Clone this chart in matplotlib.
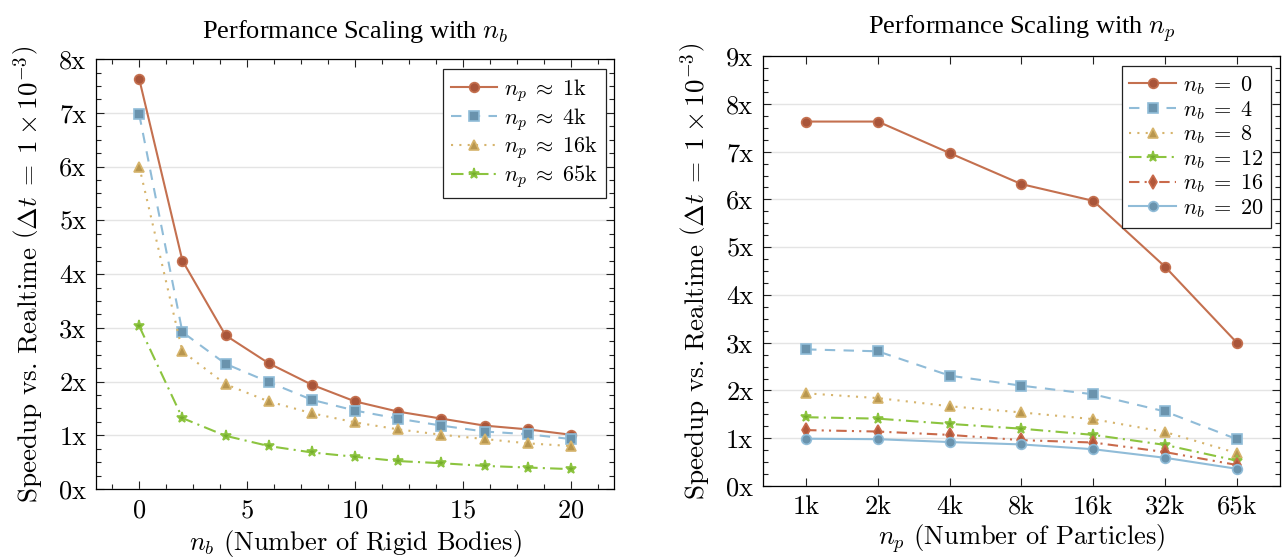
"""Speedup vs. realtime scaling charts (rigid bodies / particles)."""

import matplotlib

matplotlib.use("Agg")
import matplotlib.pyplot as plt
from matplotlib.ticker import FuncFormatter, MultipleLocator, AutoMinorLocator

plt.rcParams["font.family"] = "serif"
plt.rcParams["font.serif"] = ["cmr10"]
plt.rcParams["mathtext.fontset"] = "cm"
plt.rcParams["axes.formatter.use_mathtext"] = True

# left panel: speedup vs number of rigid bodies
n_bodies = [0, 2, 4, 6, 8, 10, 12, 14, 16, 18, 20]
speed_1k = [7.63, 4.25, 2.86, 2.34, 1.94, 1.63, 1.44, 1.31, 1.18, 1.11, 1.01]
speed_4k = [6.97, 2.92, 2.33, 1.99, 1.66, 1.46, 1.31, 1.18, 1.07, 1.02, 0.93]
speed_16k = [6.00, 2.56, 1.95, 1.63, 1.41, 1.24, 1.11, 1.01, 0.93, 0.85, 0.80]
speed_65k = [3.03, 1.32, 0.99, 0.80, 0.68, 0.60, 0.52, 0.48, 0.43, 0.40, 0.37]
left_labels = [r"$n_p \;\approx\; 1$k", r"$n_p \;\approx\; 4$k",
               r"$n_p \;\approx\; 16$k", r"$n_p \;\approx\; 65$k"]

# right panel: speedup vs number of particles
particle_labels = ["1k", "2k", "4k", "8k", "16k", "32k", "65k"]
speed_nb0 = [7.63, 7.63, 6.97, 6.32, 5.97, 4.59, 3.00]
speed_nb4 = [2.86, 2.82, 2.31, 2.10, 1.92, 1.56, 0.98]
speed_nb8 = [1.94, 1.84, 1.67, 1.54, 1.40, 1.13, 0.69]
speed_nb12 = [1.44, 1.41, 1.30, 1.20, 1.07, 0.86, 0.53]
speed_nb16 = [1.17, 1.14, 1.07, 0.96, 0.91, 0.71, 0.44]
speed_nb20 = [0.99, 0.98, 0.92, 0.87, 0.77, 0.59, 0.36]
right_labels = [r"$n_b \;=\; 0$", r"$n_b \;=\; 4$", r"$n_b \;=\; 8$",
                r"$n_b \;=\; 12$", r"$n_b \;=\; 16$", r"$n_b \;=\; 20$"]

RED = ("#c4704f", "#a9553a")
BLUE = ("#90bcd8", "#6a93ad")
GOLD = ("#d6b46c", "#b8964f")
GREEN = ("#8cc43f", "#76ad2e")
RED2 = ("#c96a4b", "#b0573a")

DASHDOTDOT = (0, (5, 2.5, 1, 2.5, 1, 2.5))
TITLE_FONT = "Liberation Serif"
YLABEL = r"Speedup vs. Realtime $\left(\Delta t \;=\; 1 \times 10^{-3}\right)$"


def style_axes(ax, ymax):
    ax.set_ylim(0, ymax)
    ax.yaxis.set_major_locator(MultipleLocator(1))
    ax.yaxis.set_minor_locator(MultipleLocator(0.25))
    ax.yaxis.set_major_formatter(FuncFormatter(lambda v, _: f"{int(round(v))}x"))
    ax.tick_params(which="both", direction="in", top=True, right=True,
                   labelsize=19, colors="#222222", labelcolor="black")
    ax.tick_params(which="major", length=6, width=0.8)
    ax.tick_params(which="minor", length=3.5, width=0.8)
    ax.tick_params(axis="x", pad=7)
    ax.tick_params(axis="y", pad=7)
    ax.grid(axis="y", which="major", color="#e4e4e4", linewidth=1)
    ax.set_axisbelow(True)
    for spine in ax.spines.values():
        spine.set_linewidth(0.9)
    ax.set_ylabel(YLABEL, fontsize=19.5, labelpad=10)


def draw_series(ax, x, y, color, style, marker, label, ms=7):
    ax.plot(x, y, linestyle=style, color=color[0], linewidth=1.5,
            marker=marker, markersize=ms, markerfacecolor=color[1],
            markeredgecolor=color[0], markeredgewidth=1.2, label=label,
            clip_on=False)


def add_legend(ax, anchor):
    leg = ax.legend(loc="upper right", bbox_to_anchor=anchor,
                    fontsize=16, handlelength=2.1, fancybox=False,
                    framealpha=1, edgecolor="#222222", borderpad=0.35,
                    labelspacing=0.08, handletextpad=0.3, borderaxespad=0)
    leg.get_frame().set_linewidth(0.9)


fig = plt.figure(figsize=(12.86, 5.59), dpi=100)
ax1 = fig.add_axes([0.0747, 0.1252, 0.4028, 0.769])
ax2 = fig.add_axes([0.5933, 0.1306, 0.4020, 0.769])

# left panel
draw_series(ax1, n_bodies, speed_1k, RED, "-", "o", left_labels[0])
draw_series(ax1, n_bodies, speed_4k, BLUE, (0, (5, 4)), "s", left_labels[1])
draw_series(ax1, n_bodies, speed_16k, GOLD, (0, (1, 3)), "^", left_labels[2])
draw_series(ax1, n_bodies, speed_65k, GREEN, (0, (6, 2.5, 1, 2.5)), "*", left_labels[3], ms=8)
ax1.set_xlim(-2, 22)
ax1.xaxis.set_major_locator(MultipleLocator(5))
ax1.xaxis.set_minor_locator(AutoMinorLocator(4))
style_axes(ax1, 8)
ax1.set_xlabel(r"$n_b$ (Number of Rigid Bodies)", fontsize=19, labelpad=4)
ax1.set_title(r"Performance Scaling with $n_b$", fontsize=19,
              family=TITLE_FONT, pad=15)
add_legend(ax1, (0.984, 0.977))

# right panel
pos = range(len(particle_labels))
draw_series(ax2, pos, speed_nb0, RED, "-", "o", right_labels[0])
draw_series(ax2, pos, speed_nb4, BLUE, (0, (5, 4)), "s", right_labels[1])
draw_series(ax2, pos, speed_nb8, GOLD, (0, (1, 3)), "^", right_labels[2])
draw_series(ax2, pos, speed_nb12, GREEN, (0, (6, 2.5, 1, 2.5)), "*", right_labels[3], ms=8)
draw_series(ax2, pos, speed_nb16, RED2, DASHDOTDOT, "d", right_labels[4])
draw_series(ax2, pos, speed_nb20, BLUE, "-", "o", right_labels[5])
ax2.set_xlim(-0.6, 6.6)
ax2.set_xticks(list(pos))
ax2.set_xticklabels(particle_labels)
style_axes(ax2, 9)
ax2.set_xlabel(r"$n_p$ (Number of Particles)", fontsize=19, labelpad=2)
ax2.set_title(r"Performance Scaling with $n_p$", fontsize=19,
              family=TITLE_FONT, pad=16)
add_legend(ax2, (0.983, 0.976))

fig.savefig("out.png", dpi=100)
